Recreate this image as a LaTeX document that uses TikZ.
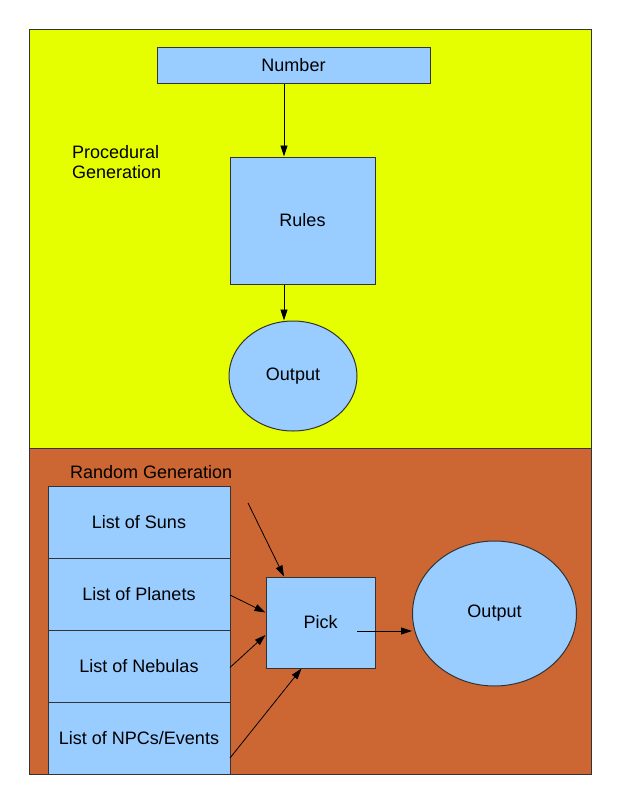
\documentclass[tikz,border=0pt]{standalone}
\usepackage{fontspec}
\setmainfont{Liberation Sans}
\usetikzlibrary{arrows.meta,shapes.geometric,positioning}

\definecolor{procyellow}{HTML}{E6FF00}
\definecolor{randbrown}{HTML}{CC6633}
\definecolor{boxblue}{HTML}{99CCFF}
\definecolor{edgegrey}{HTML}{333333}

\tikzset{
  box/.style={draw=edgegrey, fill=boxblue, line width=1pt, inner sep=0pt,
    font=\fontsize{18}{20}\selectfont},
  blob/.style={box, ellipse},
  listbox/.style={box, outer sep=0pt, minimum width=182pt, minimum height=72pt},
  lbl/.style={inner sep=0pt, font=\fontsize{18}{20}\selectfont}
}

\begin{document}
\begin{tikzpicture}[x=1pt, y=-1pt, >={Triangle[length=11pt,width=7pt]}]
\useasboundingbox[fill=white] (0,0) rectangle (620,803);

% the two regions
\draw[edgegrey, fill=procyellow] (29,29) rectangle (591,448);
\draw[edgegrey, fill=randbrown] (29,448) rectangle (591,774);

% procedural part (upper)
\node[box, minimum width=273pt, minimum height=36pt] (number) at (293.5,65.5) {Number};
\node[box, minimum width=145pt, minimum height=127pt] (rules) at (302.5,220.5) {Rules};
\node[blob, minimum width=128pt, minimum height=110pt] (outA) at (293,376) {Output};
\node[lbl, anchor=north west, align=left] (proclbl) at (72,145) {Procedural\\Generation};

\draw[->, line width=0.8pt] ([xshift=-9.5pt]number.south) -- ([xshift=-18.5pt]rules.north);
\draw[->, line width=0.8pt] ([xshift=-18.5pt]rules.south) -- ([xshift=-9pt]outA.north);

% random part (lower)
\node[lbl, anchor=base west] (randlbl) at (70,478) {Random Generation};
\node[listbox] (suns) at (139,522) {List of Suns};
\node[listbox, below=0pt of suns] (planets) {List of Planets};
\node[listbox, below=0pt of planets] (nebulas) {List of Nebulas};
\node[listbox, below=0pt of nebulas] (npcs) {List of NPCs/Events};
\node[box, minimum width=109pt, minimum height=91pt] (pick) at (320.5,622.5) {Pick};
\node[blob, minimum width=164pt, minimum height=145pt] (outB) at (494.5,613.5) {Output};

\coordinate (sunsout) at (248,503);
\coordinate (pickout) at (357,631);
\draw[->, line width=0.8pt] (sunsout) -- ([xshift=-36.5pt]pick.north);
\draw[->, line width=0.8pt] ([yshift=-1pt]planets.east) -- ([yshift=10pt]pick.west);
\draw[->, line width=0.8pt] ([yshift=-1.5pt]nebulas.east) -- ([yshift=-12.5pt]pick.west);
\draw[->, line width=0.8pt] ([yshift=-20pt]npcs.east) -- ([xshift=-19pt]pick.south);
\draw[->, line width=0.8pt] (pickout) -- (pickout -| outB.west);
\end{tikzpicture}
\end{document}
